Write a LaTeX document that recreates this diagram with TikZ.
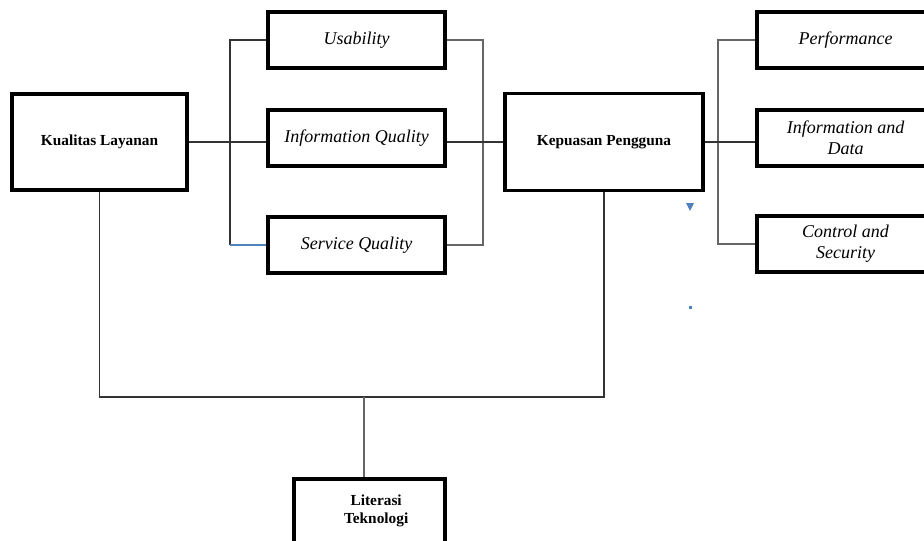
\documentclass[tikz,border=0pt]{standalone}
\usepackage{fontspec}
\setmainfont{Liberation Serif}
\definecolor{wordblue}{RGB}{79,129,189}
\tikzset{
  box/.style={draw,line width=2.4pt,fill=white,inner sep=2pt},
  varbox/.style={box,minimum width=132.75pt,minimum height=42pt,font=\fontsize{13.5}{16}\selectfont\itshape,align=center},
  mainbox/.style={box,font=\fontsize{11.5}{14}\selectfont\bfseries,align=center},
  conn/.style={line width=0.8pt,black!80},
  connlight/.style={line width=0.8pt,black!60},
}
\begin{document}
\begin{tikzpicture}[x=0.75pt,y=-0.75pt]
  \useasboundingbox (0,0) rectangle (924,540);
  \clip (0,0) rectangle (924,540);
  % main variables
  \node[mainbox,minimum width=131.25pt,minimum height=72pt] (kl) at (99.5,142) {Kualitas Layanan};
  \node[mainbox,minimum width=148.5pt,minimum height=72.75pt] (kp) at (604,142) {Kepuasan Pengguna};
  \node[mainbox,minimum width=113.25pt,minimum height=48pt] (lt) at (369.5,511) {\hspace*{10pt}Literasi\\\hspace*{10pt}Teknologi};
  % dimensions of Kualitas Layanan
  \node[varbox] (us) at (356.5,40) {Usability};
  \node[varbox] (iq) at (356.5,138) {Information Quality};
  \node[varbox] (sq) at (356.5,245) {Service Quality};
  % dimensions of Kepuasan Pengguna
  \node[varbox] (pf) at (845.5,40) {Performance};
  \node[varbox,align=center] (id) at (845.5,138) {Information and\\Data};
  \node[varbox,align=center] (cs) at (845.5,244) {Control and\\Security};
  % bracket points
  \coordinate (lb) at (230,141);
  \coordinate (mb) at (483,141);
  \coordinate (rb) at (718,141);
  \coordinate (jn) at (364,397);
  % connectors
  \draw[conn] (kl.east) -- (kl.east -| iq.west);
  \draw[conn] (us.west) -- (us.west -| lb) -- (lb |- sq.west);
  \draw[wordblue,line width=2pt] (lb |- sq.west) -- (sq.west);
  \draw[connlight] (us.east) -- (us.east -| mb) -- (mb |- sq.east) -- (sq.east);
  \draw[conn] (kp.west -| iq.east) -- (kp.west);
  \draw[connlight] (pf.west) -- (pf.west -| rb) -- (rb |- cs.west) -- (cs.west);
  \draw[conn] (kp.east) -- (kp.east -| id.west);
  \draw[conn] (kl.south) |- (jn) -| (kp.south);
  \draw[connlight] (jn) -- (jn |- lt.north);
  % stray marks
  \fill[wordblue] (686,203) -- (694,203) -- (690,211) -- cycle;
  \fill[wordblue] (688.5,305.5) rectangle (691.5,308.5);
\end{tikzpicture}
\end{document}
